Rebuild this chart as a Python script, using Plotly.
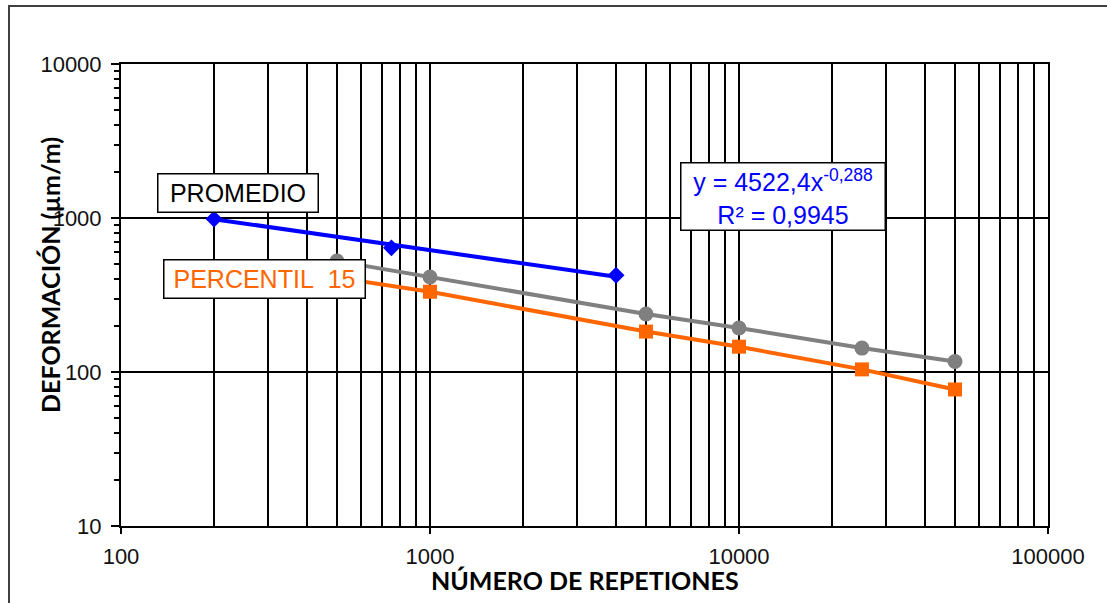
import plotly.graph_objects as go

# datos
repeticiones_prom = [200, 750, 4000]
deform_prom = [985, 640, 425]

tendencia_x = [200, 4000]
tendencia_y = [983, 415]

repeticiones = [500, 1000, 5000, 10000, 25000, 50000]
deform_gris = [525, 414, 238, 193, 143, 117]
deform_p15 = [410, 332, 183, 146, 104, 77]

x_ticks = [100, 1000, 10000, 100000]
y_ticks = [10, 100, 1000, 10000]

W, H = 1107, 603
L, R, T, B = 121, 1048, 64, 526


def px(x):
    return (x - L) / (R - L)


def py(y):
    return (B - y) / (B - T)


def caja(x, y, texto, color, size, w, h):
    fig.add_annotation(
        x=px(x), y=py(y), xref='paper', yref='paper', text=texto,
        xanchor='center', yanchor='middle', showarrow=False,
        font=dict(family='Liberation Sans', size=size, color=color),
        bgcolor='white', bordercolor='black', borderwidth=1.5, borderpad=1,
        width=w, height=h
    )


fig = go.Figure()

fig.add_trace(go.Scatter(
    x=repeticiones, y=deform_gris, mode='lines+markers',
    line=dict(color='#808080', width=4),
    marker=dict(symbol='circle', size=15, color='#808080'),
    showlegend=False
))
fig.add_trace(go.Scatter(
    x=repeticiones, y=deform_p15, mode='lines+markers',
    line=dict(color='#FF6600', width=4),
    marker=dict(symbol='square', size=14, color='#FF6600'),
    showlegend=False
))
fig.add_trace(go.Scatter(
    x=tendencia_x, y=tendencia_y, mode='lines',
    line=dict(color='#0000FF', width=4),
    showlegend=False
))
fig.add_trace(go.Scatter(
    x=repeticiones_prom, y=deform_prom, mode='markers',
    marker=dict(symbol='diamond', size=13, color='#0000FF'),
    showlegend=False
))

fig.update_xaxes(
    type='log', range=[2, 5], tickvals=x_ticks, ticktext=[str(v) for v in x_ticks],
    showline=True, linecolor='black', linewidth=2, mirror=True,
    showgrid=True, gridcolor='black', gridwidth=2,
    ticks='outside', ticklen=6, tickwidth=2, tickcolor='black',
    ticklabelstandoff=4,
    minor=dict(dtick='D1', showgrid=True, gridcolor='black', gridwidth=2, ticks=''),
    tickfont=dict(family='Liberation Sans', size=22, color='#111111'),
    zeroline=False
)
fig.update_yaxes(
    type='log', range=[1, 4], tickvals=y_ticks, ticktext=[str(v) for v in y_ticks],
    showline=True, linecolor='black', linewidth=2, mirror=True,
    showgrid=True, gridcolor='black', gridwidth=2,
    ticks='outside', ticklen=8, tickwidth=2, tickcolor='black',
    ticklabelstandoff=5,
    minor=dict(dtick='D1', showgrid=False, ticks='outside', ticklen=5, tickwidth=2, tickcolor='black'),
    tickfont=dict(family='Liberation Sans', size=22, color='#111111'),
    zeroline=False
)

caja(237.5, 192.5, 'PROMEDIO', 'black', 25, 157, 35)
caja(264, 278.5, 'PERCENTIL&nbsp;&nbsp;15', '#FF6600', 25, 198, 35)
caja(782.5, 196, 'y = 4522,4x<sup>-0,288</sup><br>R² = 0,9945', '#0000FF', 25, 201, 64)

fig.add_annotation(
    x=px(585), y=py(580), xref='paper', yref='paper', text='NÚMERO DE REPETIONES',
    xanchor='center', yanchor='middle', showarrow=False,
    font=dict(family='Lato', size=25, color='black', weight='bold')
)
fig.add_annotation(
    x=px(50), y=py(275), xref='paper', yref='paper', text='DEFORMACIÓN (µm/m)',
    xanchor='center', yanchor='middle', showarrow=False, textangle=-90,
    font=dict(family='Lato', size=25, color='black', weight='bold')
)

# borde del area del grafico
fig.add_shape(
    type='rect', xref='paper', yref='paper',
    x0=px(9), x1=px(1115), y0=py(615), y1=py(6),
    line=dict(color='#404040', width=2), layer='below'
)

fig.update_layout(
    width=W, height=H,
    margin=dict(l=L, r=W - R, t=T, b=H - B),
    plot_bgcolor='white', paper_bgcolor='white',
    showlegend=False
)

# quitar el margen del body para que el grafico empiece en (0, 0)
fig.write_html(
    'out.html',
    config={'displayModeBar': False},
    post_script="document.body.style.margin='0';document.body.style.overflow='hidden';"
)
